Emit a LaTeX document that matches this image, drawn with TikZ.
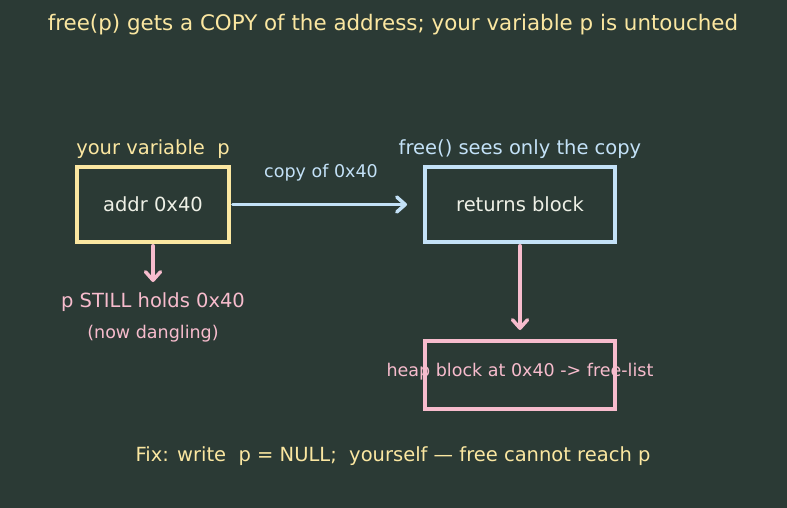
\documentclass[tikz,border=0pt]{standalone}
\usepackage{fontspec}
\setmainfont{DejaVu Sans}
\usetikzlibrary{arrows.meta}
\definecolor{bg}{HTML}{2B3A35}
\definecolor{cyel}{HTML}{FBE7A1}
\definecolor{cblue}{HTML}{C3E1F7}
\definecolor{cpink}{HTML}{F7BCCD}
\definecolor{cwhite}{HTML}{EEF0E6}
\tikzset{
  big/.style={font=\fontsize{19.5}{23}\selectfont, inner sep=0pt},
  small/.style={font=\fontsize{17.5}{21}\selectfont, inner sep=0pt},
  boxnode/.style={draw, line width=3.5pt, minimum width=152pt, minimum height=75pt, inner sep=0pt},
  arr/.style={line width=3.5pt, line cap=round, -{Straight Barb[length=8.5pt,width=15pt,line cap=round,line join=round]}},
}
\begin{document}
\begin{tikzpicture}[x=1pt,y=-1pt]
\fill[bg] (0,0) rectangle (787,508);
\useasboundingbox (0,0) rectangle (787,508);
\node[big, text=cyel, font=\fontsize{21.4}{25}\selectfont] (title) at (393,24.5) {free(p) gets a COPY of the address; your variable p is untouched};
\node[boxnode, draw=cyel, text=cwhite, font=\fontsize{19.5}{23}\selectfont] (addr) at (153,204.5) {addr 0x40};
\node[boxnode, draw=cblue, text=cwhite, minimum width=190pt, font=\fontsize{19.5}{23}\selectfont] (ret) at (520,204.5) {returns block};
\node[boxnode, draw=cpink, minimum width=190pt, minimum height=68pt] (heap) at (520,375) {};
\node[small, text=cpink] (heaplbl) at (520,371.5) {heap block at 0x40 -> free-list};
\node[big, text=cyel] (yv) at (153,149) {your variable\ \ p};
\node[big, text=cblue] (fs) at (520,149) {free() sees only the copy};
\node[small, text=cblue] (copy) at (321,172.5) {copy of 0x40};
\node[big, text=cpink] (still) at (153,302) {p STILL holds 0x40};
\node[small, text=cpink] (dang) at (153,334) {(now dangling)};
\node[big, text=cyel] (fix) at (393,456) {Fix: write\ \ p = NULL;\ \ yourself — free cannot reach p};
\coordinate (bt) at (407,204.5);
\coordinate (pt1) at (153,282);
\coordinate (pt2) at (520,330);
\draw[arr, cblue] (addr.east) ++(2,0) -- (bt);
\draw[arr, cpink] (addr.south) ++(0,2) -- (pt1);
\draw[arr, cpink] (ret.south) ++(0,2) -- (pt2);
\end{tikzpicture}
\end{document}
